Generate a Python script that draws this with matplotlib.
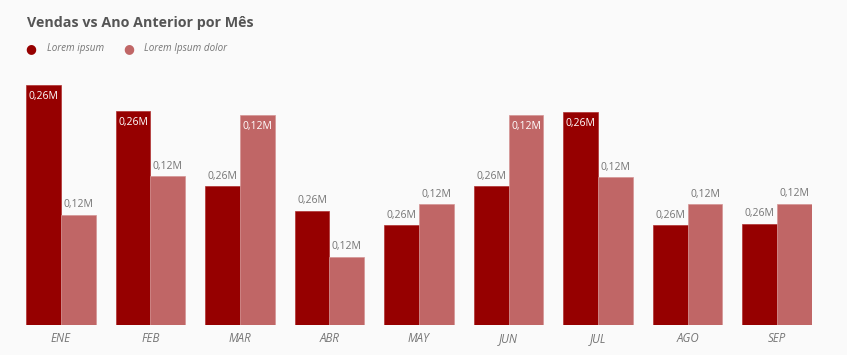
import matplotlib
matplotlib.use("Agg")
import matplotlib.pyplot as plt
import numpy as np

plt.rcParams['font.family'] = ['Open Sans', 'DejaVu Sans']

# Datos
meses = ['ENE', 'FEB', 'MAR', 'ABR', 'MAY', 'JUN', 'JUL', 'AGO', 'SEP']
actual = [240, 213.5, 138.5, 114, 99.5, 138.5, 212.5, 99.5, 101]
anterior = [110, 148.5, 209.5, 68, 120.5, 209.5, 147.5, 120.5, 121]
etiqueta_actual = ['0,26M'] * 9
etiqueta_anterior = ['0,12M'] * 9
series = ['Lorem ipsum', 'Lorem Ipsum dolor']

C_DARK = '#960000'
C_LIGHT = '#C06666'
BG = '#FAFAFA'
GRAY = '#757575'

W, H = 847, 355
fig = plt.figure(figsize=(W / 100, H / 100), dpi=100, facecolor=BG)
ax = fig.add_axes([26 / W, 30.5 / H, 786 / W, 240 / H], facecolor=BG)

x = np.arange(len(meses))
bw = 0.39
b1 = ax.bar(x - bw / 2, actual, bw, color=C_DARK, edgecolor='#b03030', linewidth=0.5)
b2 = ax.bar(x + bw / 2, anterior, bw, color=C_LIGHT, edgecolor='#d49494', linewidth=0.5)

ax.set_xlim(-bw, len(meses) - 1 + bw)
ax.set_ylim(0, 240)

def etiquetar(bars, textos):
    for rect, t in zip(bars, textos):
        h = rect.get_height()
        cx = rect.get_x() + rect.get_width() / 2
        if h > 200:
            ax.annotate(t, (cx, h), xytext=(0, -4.5), textcoords='offset points',
                        ha='center', va='top', color='white', fontsize=7.5)
        else:
            ax.annotate(t, (cx, h), xytext=(0, 3), textcoords='offset points',
                        ha='center', va='bottom', color=GRAY, fontsize=7.5)

etiquetar(b1, etiqueta_actual)
etiquetar(b2, etiqueta_anterior)

ax.set_xticks(x)
ax.set_xticklabels(meses, fontstyle='italic', color=GRAY, fontsize=8.3)
ax.tick_params(axis='x', length=0, pad=5.5)
ax.set_yticks([])
for s in ax.spines.values():
    s.set_visible(False)

fig.text(27 / W, 1 - 23 / H, 'Vendas vs Ano Anterior por Mês', ha='left', va='center',
         fontsize=10.3, fontweight='bold', color='#555555')

# leyenda
fig.text(31 / W, 1 - 48.5 / H, '●', color=C_DARK, fontsize=9, ha='center', va='center')
fig.text(47 / W, 1 - 48.5 / H, series[0], color=GRAY, fontsize=7.1, fontstyle='italic',
         ha='left', va='center')
fig.text(129 / W, 1 - 48.5 / H, '●', color=C_LIGHT, fontsize=9, ha='center', va='center')
fig.text(144 / W, 1 - 48.5 / H, series[1], color=GRAY, fontsize=7.1, fontstyle='italic',
         ha='left', va='center')

fig.savefig('out.png', dpi=100, facecolor=BG)
